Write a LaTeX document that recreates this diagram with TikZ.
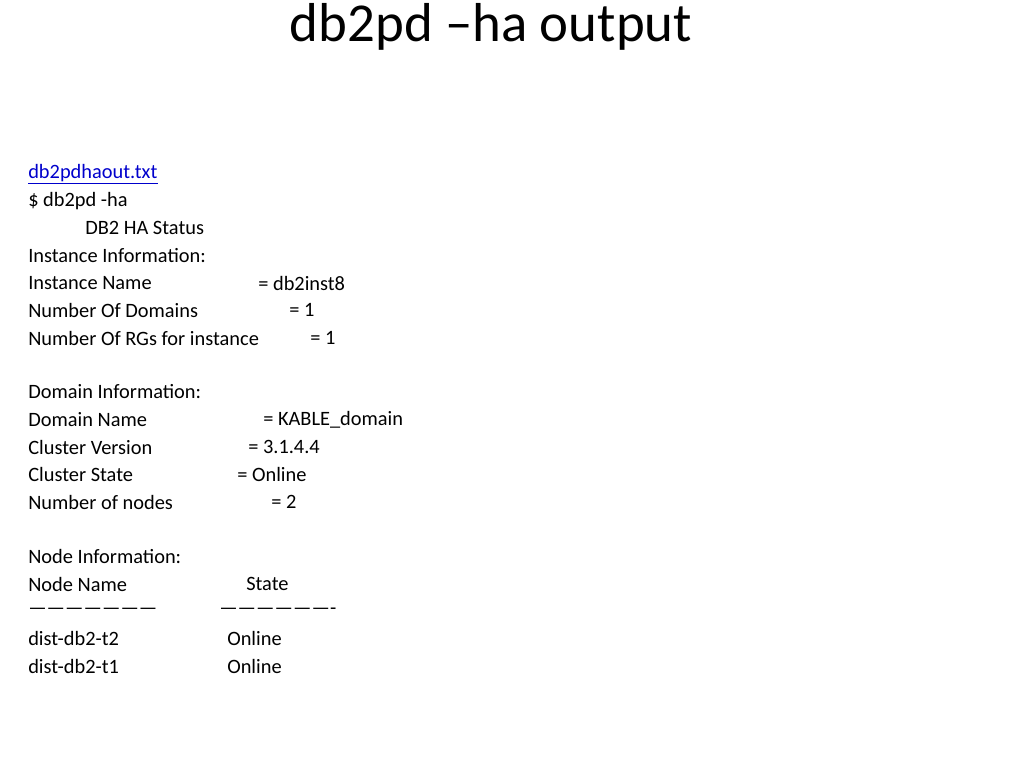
\documentclass[tikz,border=0pt]{standalone}
\usepackage{fontspec}
\setmainfont{Carlito}
\begin{document}
\begin{tikzpicture}[x=0.025cm,y=-0.025cm]
\tikzset{txt/.style={anchor=west,inner sep=0pt,font=\fontsize{14.5}{16}\selectfont}}

\useasboundingbox (0,0) rectangle (1024,768);

\node[font=\fontsize{39}{42}\selectfont,inner sep=0pt] (title) at (491,27) {db2pd --ha output};

\node[txt,text=blue!80!black] (link) at (28,174) {\underline{db2pdhaout.txt}};

% left column
\foreach \name/\y/\t in {cmd/201/{\$ db2pd -ha},
  inst/228/{},iinfo/256/{Instance Information:},iname/283/{Instance Name},
  ndom/310/{Number Of Domains},nrg/338/{Number Of RGs for instance},
  dinfo/392/{Domain Information:},dname/420/{Domain Name},cver/447/{Cluster Version},
  cstate/474/{Cluster State},nnodes/502/{Number of nodes},
  ninfo/556/{Node Information:},nname/584/{Node Name},
  dash/611/{---------------------},tt/638/{dist-db2-t2},to/666/{dist-db2-t1}}
  \node[txt] (\name) at (28,\y) {\t};

\node[txt] (status) at (85,228) {DB2 HA Status};

% right column
\foreach \name/\x/\y/\t in {vinst/258/283/{= db2inst8},vdom/289/310/{= 1},vrg/310/338/{= 1},
  vdname/263/420/{= KABLE\_domain},vcver/248/447/{= 3.1.4.4},vcstate/237/474/{= Online},
  vnodes/271/502/{= 2},state/246/584/{State},sdash/219/611/{-------------------},
  stt/227/638/{Online},sto/227/666/{Online}}
  \node[txt] (\name) at (\x,\y) {\t};
\end{tikzpicture}
\end{document}
